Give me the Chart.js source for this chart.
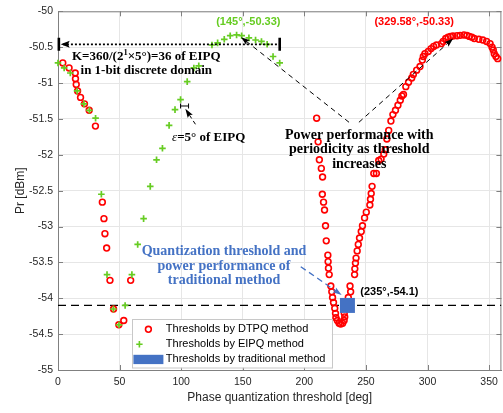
<!DOCTYPE html>
<html>
<head>
<meta charset="utf-8">
<script src="https://cdn.jsdelivr.net/npm/chart.js@4.4.1/dist/chart.umd.min.js"></script>
<style>
  html, body { margin: 0; padding: 0; overflow: hidden; background: #fff; }
  canvas { display: block; }
</style>
</head>
<body>
<canvas id="c" width="512" height="413" style="width:512px;height:413px"></canvas>
<script>
// Axis ticks
const xTicks = [0, 50, 100, 150, 200, 250, 300, 350];
const yTicks = [-55, -54.5, -54, -53.5, -53, -52.5, -52, -51.5, -51, -50.5, -50];

// Thresholds by DTPQ method (deg, dBm)
const dtpqX = [
  3.9, 9, 14, 14.2, 14.8, 15.9, 18.3, 21.5, 25.3, 30.4,
  36, 37.3, 38.1, 39.5, 42.2, 59, 45.1, 49.4, 53.4,
  210, 211.2, 212.2, 213.8, 214.8, 214.6, 215.6, 216.4, 217.2, 217.8,
  219.1, 219.3, 219.6, 220.2, 221.5, 222.3, 222.9, 223.7, 224.7, 225.3,
  225.6, 226.8, 228.2, 229.5, 231.1, 232.3, 232.8, 232.4, 232.8,
  235.7, 237.6, 237.1, 240.8, 241, 241.5, 242, 242.9, 243.8, 244.8,
  246.2, 247.2, 248.9, 250.3, 253.2, 253.7, 254.3, 255, 256.4, 258.5,
  260.4, 262.3, 264.5, 265.7, 267, 268.5, 270.3, 271.9, 274, 276,
  277.9, 279.2, 280.5, 282.4, 284.6, 287.2, 288.5, 291.2, 293.9, 295.8,
  296.6, 297.9, 300.6, 302.9, 305, 307.3, 311.3, 312.7, 314.8, 316.7,
  318.6, 320.7, 324, 326.5, 329.58, 332, 334, 336, 338, 341.7,
  344.9, 348, 350.8, 352.4, 353.4, 354.2, 355.6, 357
];
const dtpqY = [
  -50.72, -50.79, -50.86, -50.94, -51.02, -51.11, -51.20, -51.29, -51.38, -51.60,
  -52.66, -52.89, -53.10, -53.30, -53.75, -53.75, -54.15, -54.37, -54.31,
  -51.49, -51.82, -52.07, -52.19, -52.31, -52.55, -52.66, -52.77, -52.99, -53.20,
  -53.40, -53.49, -53.58, -53.67, -53.83, -53.91, -53.99, -54.06, -54.14, -54.21,
  -54.27, -54.31, -54.35, -54.36, -54.35, -54.31, -54.26, -54.21, -54.13,
  -53.99, -53.91, -53.83, -53.67, -53.59, -53.51, -53.44, -53.34, -53.25, -53.16,
  -53.07, -52.99, -52.88, -52.80, -52.70, -52.62, -52.54, -52.44, -52.26, -52.26,
  -52.08, -52.06, -51.99, -51.93, -51.78, -51.66, -51.53, -51.44, -51.38, -51.31,
  -51.24, -51.18, -51.16, -51.05, -50.99, -50.93, -50.88, -50.82, -50.77, -50.68,
  -50.63, -50.59, -50.56, -50.52, -50.49, -50.47, -50.45, -50.42, -50.38, -50.36,
  -50.35, -50.345, -50.34, -50.335, -50.33, -50.335, -50.35, -50.36, -50.38, -50.39,
  -50.40, -50.42, -50.45, -50.50, -50.54, -50.59, -50.63, -50.66
];

// Thresholds by EIPQ method (deg, dBm)
const eipqX = [
  0, 5, 10, 15.5, 21, 25.5, 30.5, 35.2, 39.8, 45, 49.5, 54.5,
  60, 64.7, 69.5, 74.9, 80, 84.8, 90.2, 95, 99.5, 104.9, 110.3, 114.3,
  125, 129.6, 135, 139.8, 145, 149.1, 155, 160.4, 165.2, 169.8, 174.6, 180
];
const eipqY = [
  -50.72, -50.79, -50.86, -51.11, -51.29, -51.38, -51.49, -52.55, -53.67, -54.15, -54.37, -54.10,
  -53.67, -53.25, -52.89, -52.44, -52.07, -51.91, -51.59, -51.37, -51.23, -50.98, -50.79, -50.76,
  -50.47, -50.44, -50.39, -50.34, -50.33, -50.34, -50.37, -50.40, -50.42, -50.46, -50.63, -50.72
];

// Threshold by traditional method
const tradX = [235];
const tradY = [-54.1];

const toPts = (xs, ys) => xs.map((x, i) => ({ x, y: ys[i] }));

const SERIF = '"Liberation Serif", "Times New Roman", serif';
const SANS = '"Liberation Sans", Arial, sans-serif';
const AXIS_COLOR = '#808080';
const RED = '#ff0000';
const GREEN = '#66cc22';
const BLUE = '#4472c4';

function head(ctx, x0, y0, x1, y1, len, wid, color) {
  const a = Math.atan2(y1 - y0, x1 - x0);
  ctx.save();
  ctx.translate(x1, y1);
  ctx.rotate(a);
  ctx.beginPath();
  ctx.moveTo(0, 0);
  ctx.lineTo(-len, wid / 2);
  ctx.lineTo(-len * 0.8, 0);
  ctx.lineTo(-len, -wid / 2);
  ctx.closePath();
  ctx.fillStyle = color;
  ctx.fill();
  ctx.restore();
}

function arrow(ctx, x0, y0, x1, y1, color, dash, width) {
  const a = Math.atan2(y1 - y0, x1 - x0);
  ctx.save();
  ctx.strokeStyle = color;
  ctx.lineWidth = width;
  ctx.setLineDash(dash);
  ctx.beginPath();
  ctx.moveTo(x0, y0);
  ctx.lineTo(x1 - Math.cos(a) * 6, y1 - Math.sin(a) * 6);
  ctx.stroke();
  ctx.restore();
  head(ctx, x0, y0, x1, y1, 9, 6, color);
}

function lines(ctx, text, cx, baselines, font, color) {
  ctx.save();
  ctx.font = font;
  ctx.fillStyle = color;
  ctx.textAlign = 'center';
  ctx.textBaseline = 'alphabetic';
  text.forEach((t, i) => ctx.fillText(t, cx, baselines[i]));
  ctx.restore();
}

const decor = {
  id: 'decor',
  beforeDatasetsDraw(chart) {
    const { ctx, chartArea: ca, scales: { x, y } } = chart;
    ctx.save();
    ctx.strokeStyle = AXIS_COLOR;
    ctx.lineWidth = 1;
    ctx.beginPath();
    // box top and right
    ctx.moveTo(ca.left, ca.top + 0.5); ctx.lineTo(ca.right, ca.top + 0.5);
    ctx.moveTo(ca.right - 0.5, ca.top); ctx.lineTo(ca.right - 0.5, ca.bottom);
    // inward ticks
    xTicks.forEach(v => {
      const p = Math.round(x.getPixelForValue(v)) + 0.5;
      ctx.moveTo(p, ca.bottom); ctx.lineTo(p, ca.bottom - 5);
      ctx.moveTo(p, ca.top); ctx.lineTo(p, ca.top + 5);
    });
    yTicks.forEach(v => {
      const p = Math.round(y.getPixelForValue(v)) + 0.5;
      ctx.moveTo(ca.left, p); ctx.lineTo(ca.left + 5, p);
      ctx.moveTo(ca.right, p); ctx.lineTo(ca.right - 5, p);
    });
    ctx.stroke();
    ctx.restore();
  },
  afterDatasetsDraw(chart) {
    const { ctx, scales: { x, y } } = chart;
    const X = v => x.getPixelForValue(v);
    const Y = v => y.getPixelForValue(v);

    // K span: dotted double-bar arrow over 0..180 deg
    const ky = Y(-50.46);
    ctx.save();
    ctx.strokeStyle = '#000';
    ctx.lineWidth = 1.8;
    ctx.setLineDash([2, 2]);
    ctx.beginPath();
    ctx.moveTo(X(4), ky); ctx.lineTo(X(180), ky);
    ctx.stroke();
    ctx.setLineDash([]);
    ctx.lineWidth = 2.6;
    ctx.beginPath();
    ctx.moveTo(X(0.7), ky - 6.5); ctx.lineTo(X(0.7), ky + 6.5);
    ctx.moveTo(X(180), ky - 6.5); ctx.lineTo(X(180), ky + 6.5);
    ctx.stroke();
    ctx.restore();
    head(ctx, X(20), ky, X(2.2), ky, 9, 7, '#000');

    // epsilon interval marker
    const ey = Y(-51.32);
    ctx.save();
    ctx.strokeStyle = '#000';
    ctx.lineWidth = 1;
    ctx.beginPath();
    ctx.moveTo(X(99.5), ey); ctx.lineTo(X(106), ey);
    ctx.moveTo(X(99.5), ey - 2.5); ctx.lineTo(X(99.5), ey + 2.5);
    ctx.moveTo(X(106), ey - 2.5); ctx.lineTo(X(106), ey + 2.5);
    ctx.stroke();
    ctx.restore();
    arrow(ctx, X(111.6), Y(-51.575), X(103.4), Y(-51.36), '#000', [4, 3], 1);

    // periodicity arrows to both peaks
    arrow(ctx, X(236.3), Y(-51.547), X(148.6), Y(-50.36), '#000', [5, 4], 1);
    arrow(ctx, X(244.3), Y(-51.547), X(320.8), Y(-50.38), '#000', [5, 4], 1);

    // arrow to traditional threshold
    arrow(ctx, X(197.1), Y(-53.56), X(230.3), Y(-53.955), BLUE, [6, 4], 1.3);

    // K text with superscript
    ctx.save();
    ctx.fillStyle = '#000';
    ctx.textBaseline = 'alphabetic';
    const f1 = 'bold 13px ' + SERIF, fs = 'bold 8.5px ' + SERIF;
    const a = 'K=360/(2', s = '1', b = '\u00d75\u00b0)=36 of EIPQ';
    ctx.font = f1; const wa = ctx.measureText(a).width, wb = ctx.measureText(b).width;
    ctx.font = fs; const ws = ctx.measureText(s).width;
    let kx = X(71.7) - (wa + ws + wb) / 2;
    const kb = Y(-50.679);
    ctx.textAlign = 'left';
    ctx.font = f1; ctx.fillText(a, kx, kb); kx += wa;
    ctx.font = fs; ctx.fillText(s, kx, kb - 5); kx += ws;
    ctx.font = f1; ctx.fillText(b, kx, kb);
    ctx.restore();
    lines(ctx, ['in 1-bit discrete domain'], X(71.7), [Y(-50.871)], 'bold 13px ' + SERIF, '#000');

    // epsilon text
    ctx.save();
    ctx.fillStyle = '#000';
    ctx.textAlign = 'left';
    ctx.textBaseline = 'alphabetic';
    let ex = X(92.6);
    const eb = Y(-51.804);
    ctx.font = 'italic 13px ' + SERIF;
    ctx.fillText('\u03b5', ex, eb);
    ex += ctx.measureText('\u03b5').width;
    ctx.font = 'bold 13px ' + SERIF;
    ctx.fillText('=5\u00b0 of EIPQ', ex, eb);
    ctx.restore();

    // peak labels
    lines(ctx, ['(145\u00b0,-50.33)'], X(154.5), [Y(-50.185)], 'bold 11px ' + SANS, GREEN);
    lines(ctx, ['(329.58\u00b0,-50.33)'], X(289.2), [Y(-50.185)], 'bold 11px ' + SANS, RED);

    // periodicity note
    lines(ctx, ['Power performance with', 'periodicity as threshold', 'increases'],
      X(244.6), [Y(-51.776), Y(-51.982), Y(-52.188)], 'bold 14px ' + SERIF, '#000');

    // traditional method note
    lines(ctx, ['Quantization threshold and', 'power performance of', 'traditional method'],
      X(134.8), [Y(-53.395), Y(-53.601), Y(-53.807)], 'bold 14px ' + SERIF, BLUE);

    ctx.save();
    ctx.font = 'bold 11px ' + SANS;
    ctx.fillStyle = '#000';
    ctx.textAlign = 'left';
    ctx.fillText('(' + tradX[0] + '\u00b0,' + tradY[0] + ')', X(245.4), Y(-53.957));
    ctx.restore();
  },
  afterDraw(chart) {
    const { ctx, chartArea: ca } = chart;
    const L = ca.left, T = ca.top;
    // legend box
    const bx = L + 73.7, by = T + 308, bw = 200, bh = 48.5;
    ctx.save();
    ctx.fillStyle = '#fff';
    ctx.fillRect(bx, by, bw, bh);
    ctx.strokeStyle = '#c8c8c8';
    ctx.lineWidth = 1;
    ctx.strokeRect(Math.round(bx) + 0.5, Math.round(by) + 0.5, bw, bh);
    // markers
    ctx.strokeStyle = RED;
    ctx.lineWidth = 1.6;
    ctx.beginPath();
    ctx.arc(L + 90.4, T + 318, 2.9, 0, Math.PI * 2);
    ctx.stroke();
    ctx.strokeStyle = GREEN;
    ctx.beginPath();
    ctx.moveTo(L + 81.4 - 3.2, T + 333); ctx.lineTo(L + 81.4 + 3.2, T + 333);
    ctx.moveTo(L + 81.4, T + 333 - 3.2); ctx.lineTo(L + 81.4, T + 333 + 3.2);
    ctx.stroke();
    ctx.fillStyle = BLUE;
    ctx.fillRect(L + 75.4, T + 343.5, 30, 9.3);
    // labels
    ctx.fillStyle = '#000';
    ctx.font = '11px ' + SANS;
    ctx.textAlign = 'left';
    ctx.textBaseline = 'middle';
    ctx.fillText('Thresholds by DTPQ method', L + 107.8, T + 318);
    ctx.fillText('Thresholds by EIPQ method', L + 107.8, T + 333);
    ctx.fillText('Thresholds by traditional method', L + 107.8, T + 348);
    ctx.restore();
  }
};

new Chart(document.getElementById('c'), {
  type: 'scatter',
  data: {
    datasets: [
      {
        label: 'Thresholds by traditional method',
        data: toPts(tradX, tradY),
        pointStyle: 'rect',
        pointRadius: 10.6,
        backgroundColor: BLUE,
        borderColor: BLUE,
        borderWidth: 0,
        order: 1,
        clip: false
      },
      {
        label: 'Thresholds by EIPQ method',
        data: toPts(eipqX, eipqY),
        pointStyle: 'cross',
        pointRadius: 3.3,
        borderColor: GREEN,
        borderWidth: 1.7,
        order: 2,
        clip: false
      },
      {
        label: 'Thresholds by DTPQ method',
        data: toPts(dtpqX, dtpqY),
        pointStyle: 'circle',
        pointRadius: 2.9,
        borderColor: RED,
        backgroundColor: 'rgba(0,0,0,0)',
        borderWidth: 1.6,
        order: 3,
        clip: false
      },
      {
        label: 'Traditional level',
        data: [{ x: 0, y: tradY[0] }, { x: 360, y: tradY[0] }],
        showLine: true,
        pointRadius: 0,
        borderColor: '#000',
        borderWidth: 1.2,
        borderDash: [8, 5],
        order: 4
      }
    ]
  },
  plugins: [decor],
  options: {
    responsive: false,
    animation: false,
    devicePixelRatio: 1,
    layout: { padding: { top: 5, right: 6, left: 0, bottom: 0 } },
    plugins: { legend: { display: false }, tooltip: { enabled: false } },
    scales: {
      x: {
        type: 'linear',
        min: 0, max: 360,
        afterBuildTicks: s => { s.ticks = xTicks.map(v => ({ value: v })); },
        afterFit: s => { s.height = 43; },
        grid: { color: '#e6e6e6', drawTicks: false },
        border: { color: AXIS_COLOR },
        ticks: { padding: 6, color: '#262626', font: { family: SANS, size: 10.5 }, maxRotation: 0,
                 callback: v => String(v) },
        title: {
          display: true,
          text: 'Phase quantization threshold [deg]',
          color: '#262626',
          font: { family: SANS, size: 12 },
          padding: { top: 0, bottom: 8 }
        }
      },
      y: {
        type: 'linear',
        min: -55, max: -50,
        afterBuildTicks: s => { s.ticks = yTicks.map(v => ({ value: v })); },
        afterFit: s => { s.width = 58; },
        grid: { color: '#e6e6e6', drawTicks: false },
        border: { color: AXIS_COLOR },
        ticks: { padding: 5, color: '#262626', font: { family: SANS, size: 10.5 },
                 callback: v => String(v) },
        title: {
          display: true,
          text: 'Pr [dBm]',
          color: '#262626',
          font: { family: SANS, size: 12 },
          padding: { top: 13, bottom: 0 }
        }
      }
    }
  }
});
</script>
</body>
</html>
